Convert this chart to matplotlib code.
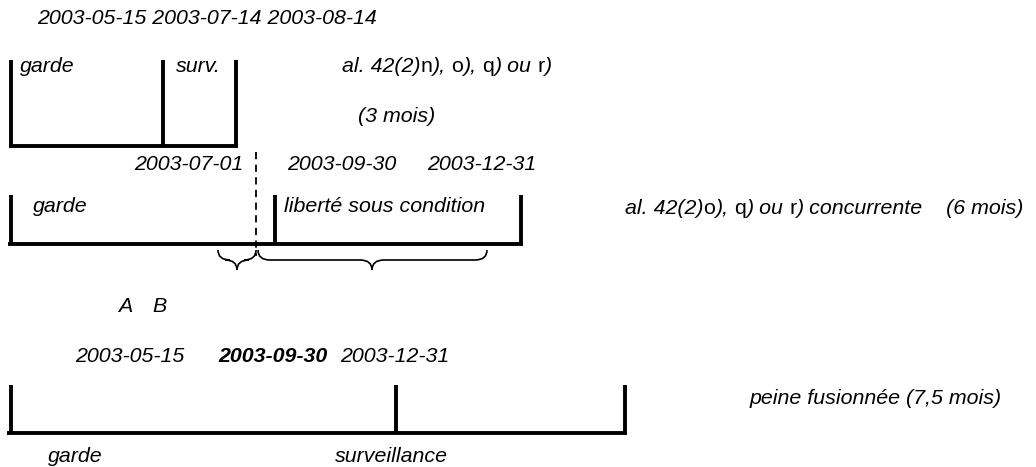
import matplotlib
matplotlib.use("Agg")
import matplotlib.pyplot as plt
from matplotlib.path import Path
from matplotlib.patches import PathPatch

plt.rcParams["font.family"] = ["Liberation Sans Narrow", "Liberation Sans", "DejaVu Sans"]

W, H = 1036, 467
FS = 15.4

# timeline bars: tick x positions, top and base y (pixel space)
row1_ticks = [11, 163, 236]
row2_ticks = [11, 275, 521]
row3_ticks = [11, 396, 625]
row_tops = [60, 195, 385]
row_bases = [146, 244, 433]
row_spans = [(9, 238), (8, 523), (7, 627)]

row1_dates = "2003-05-15 2003-07-14 2003-08-14"
row2_dates = ["2003-07-01", "2003-09-30", "2003-12-31"]
row3_dates = ["2003-05-15", "2003-09-30", "2003-12-31"]

fig = plt.figure(figsize=(W / 100, H / 100), dpi=100)
ax = fig.add_axes([0, 0, 1, 1])
ax.set_xlim(0, W)
ax.set_ylim(H, 0)
ax.axis("off")


def txt(x, y, s, **kw):
    style = kw.pop("style", "italic")
    return ax.text(x, y, s, fontsize=FS, style=style, va="center", ha=kw.pop("ha", "left"), **kw)


def rich(x, y, pieces):
    # pieces: (text, italic?) written one after another
    r = fig.canvas.get_renderer()
    for s, it in pieces:
        t = txt(x, y, s, style="italic" if it else "normal")
        bb = t.get_window_extent(renderer=r)
        x += bb.width


def brace(x0, x1, xm, y0, h):
    ym = y0 + h / 2
    r = 12
    verts = [(x0, y0), (x0, ym), (x0 + r, ym),
             (xm - r, ym), (xm, ym), (xm, y0 + h),
             (xm, ym), (xm + r, ym),
             (x1 - r, ym), (x1, ym), (x1, y0)]
    codes = [Path.MOVETO, Path.CURVE3, Path.CURVE3,
             Path.LINETO, Path.CURVE3, Path.CURVE3,
             Path.CURVE3, Path.CURVE3,
             Path.LINETO, Path.CURVE3, Path.CURVE3]
    ax.add_patch(PathPatch(Path(verts, codes), fill=False, lw=1.2, color="black"))


def timeline(ticks, top, base, span):
    ax.plot(span, [base, base], color="black", lw=2.8, solid_capstyle="butt")
    for x in ticks:
        ax.plot([x, x], [top, base], color="black", lw=2.8, solid_capstyle="butt")


for ticks, top, base, span in zip([row1_ticks, row2_ticks, row3_ticks], row_tops, row_bases, row_spans):
    timeline(ticks, top, base, span)

# row 1
txt(37, 18, row1_dates)
txt(20, 67, "garde")
txt(176, 67, "surv.")
rich(342, 66, [("al. 42(2)", True), ("n", False), ("), ", True), ("o", False), ("), ", True),
               ("q", False), (") ou ", True), ("r", False), (")", True)])
txt(358, 116, "(3 mois)")

# row 2
txt(243, 164, row2_dates[0], ha="right")
txt(287, 164, row2_dates[1])
txt(427, 164, row2_dates[2])
ax.plot([256, 256], [152, 256], color="black", lw=1.3, ls=(0, (4, 3)))
txt(33, 207, "garde")
txt(284, 207, "liberté sous condition")
rich(625, 209, [("al. 42(2)", True), ("o", False), ("), ", True), ("q", False), (") ou ", True),
                ("r", False), (") concurrente    (6 mois)", True)])
brace(218, 256, 237, 250, 20)
brace(258, 487, 372, 250, 20)
txt(118, 307, "A")
txt(152, 307, "B")

# row 3
txt(130, 356, row3_dates[0], ha="center")
txt(273, 356, row3_dates[1], ha="center", weight="bold")
txt(395, 356, row3_dates[2], ha="center")
txt(750, 398, "peine fusionnée (7,5 mois)")
txt(48, 456, "garde")
txt(335, 456, "surveillance")

fig.savefig("out.png", dpi=100, facecolor="white")
